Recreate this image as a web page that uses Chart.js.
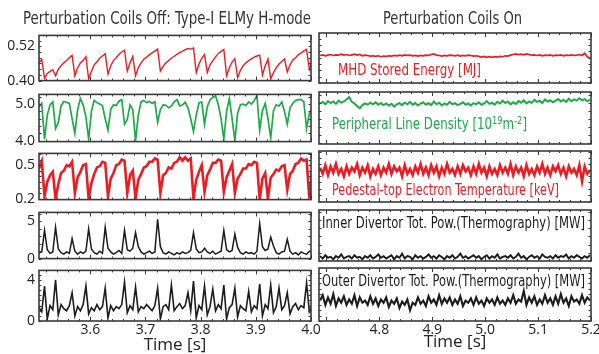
<!DOCTYPE html>
<html>
<head>
<meta charset="utf-8">
<script src="https://cdn.jsdelivr.net/npm/chart.js@4.4.1/dist/chart.umd.min.js"></script>
<style>
  body { margin: 0; background: #fff; overflow: hidden; }
  #wrap { position: relative; width: 599px; height: 354px; overflow: hidden; }
  .txt { position: absolute; white-space: nowrap; line-height: 1; transform-origin: left center;
         font-family: 'Liberation Sans Narrow', 'DejaVu Sans Condensed', 'Liberation Sans', sans-serif; }
  .txt sup { font-size: 70%; vertical-align: 0.45em; line-height: 0; }
</style>
</head>
<body>
<div id="wrap"></div>
<script>
// ==================== 데이터 ====================
// sample times: left = coils off, right = coils on (5 ms sampling)
const tOffStart = 3.507, tOnStart = 4.688, tStep = 0.005;
const xOffTicks = [3.6, 3.7, 3.8, 3.9, 4.0];
const xOnTicks = [4.8, 4.9, 5.0, 5.1, 5.2];

// MHD stored energy [MJ]
const wmhdOff = [
  0.462, 0.474, 0.408, 0.425, 0.432, 0.438, 0.417, 0.440, 0.452, 0.462,
  0.470, 0.480, 0.488, 0.417, 0.445, 0.462, 0.470, 0.484, 0.406, 0.432,
  0.455, 0.466, 0.478, 0.486, 0.494, 0.423, 0.452, 0.470, 0.480, 0.492,
  0.500, 0.506, 0.433, 0.462, 0.485, 0.417, 0.445, 0.462, 0.475, 0.482,
  0.490, 0.497, 0.503, 0.510, 0.433, 0.450, 0.462, 0.470, 0.478, 0.485,
  0.492, 0.498, 0.503, 0.508, 0.512, 0.510, 0.514, 0.428, 0.458, 0.478,
  0.491, 0.428, 0.455, 0.470, 0.483, 0.495, 0.502, 0.509, 0.417, 0.445,
  0.465, 0.477, 0.410, 0.435, 0.452, 0.462, 0.470, 0.476, 0.482, 0.486,
  0.489, 0.420, 0.452, 0.475, 0.406, 0.428, 0.445, 0.458, 0.467, 0.476,
  0.430, 0.455, 0.472, 0.480, 0.490, 0.497, 0.504, 0.509, 0.440, 0.465
];
const wmhdOn = [
  0.487, 0.489, 0.486, 0.488, 0.490, 0.487, 0.489, 0.488, 0.491, 0.488,
  0.490, 0.487, 0.489, 0.491, 0.488, 0.490, 0.486, 0.488, 0.487, 0.485,
  0.486, 0.484, 0.486, 0.483, 0.485, 0.484, 0.486, 0.485, 0.487, 0.486,
  0.488, 0.486, 0.489, 0.487, 0.488, 0.486, 0.487, 0.485, 0.487, 0.486,
  0.488, 0.487, 0.490, 0.492, 0.488, 0.487, 0.485, 0.487, 0.486, 0.488,
  0.487, 0.486, 0.488, 0.485, 0.487, 0.486, 0.488, 0.487, 0.485, 0.486,
  0.484, 0.482, 0.484, 0.481, 0.483, 0.481, 0.483, 0.482, 0.484, 0.483,
  0.486, 0.485, 0.488, 0.490, 0.492, 0.490, 0.491, 0.489, 0.492, 0.490,
  0.488, 0.489, 0.487, 0.489, 0.486, 0.488, 0.487, 0.489, 0.486, 0.488,
  0.487, 0.489, 0.486, 0.488, 0.487, 0.489, 0.487, 0.488, 0.490, 0.487,
  0.494, 0.483, 0.478
];

// peripheral line density [10^19 m^-2]
const densOff = [
  4.92, 5.02, 4.04, 4.70, 4.98, 5.06, 4.33, 4.50, 4.95, 5.07,
  5.05, 5.02, 4.60, 4.20, 4.85, 5.15, 4.98, 4.65, 4.04, 4.80,
  5.10, 5.04, 5.00, 4.96, 4.60, 4.29, 4.85, 4.98, 4.96, 5.08,
  5.12, 4.45, 4.58, 4.98, 4.85, 4.00, 4.70, 5.06, 5.10, 5.04,
  5.07, 5.02, 5.06, 4.50, 4.85, 4.98, 4.97, 4.90, 4.95, 5.06,
  5.12, 4.95, 4.98, 5.05, 4.90, 4.60, 4.25, 4.70, 5.03, 5.06,
  4.45, 4.92, 5.12, 5.18, 5.23, 4.98, 4.60, 4.04, 4.80, 5.15,
  4.60, 4.00, 4.75, 4.98, 5.00, 4.96, 5.06, 5.00, 5.10, 5.23,
  4.29, 4.82, 5.02, 4.60, 4.08, 4.82, 4.98, 4.95, 5.06, 4.80,
  4.45, 4.90, 5.02, 5.10, 5.12, 5.13, 5.06, 4.33, 4.75, 4.90
];
const densOn = [
  4.98, 5.02, 4.96, 5.04, 4.99, 5.03, 4.97, 5.05, 5.00, 5.03,
  5.08, 5.14, 5.02, 4.98, 4.92, 4.86, 4.94, 4.98, 4.95, 5.00,
  4.96, 5.01, 4.95, 4.99, 4.94, 4.98, 4.93, 4.97, 4.90, 4.96,
  4.99, 4.94, 5.00, 4.96, 5.02, 4.95, 4.99, 4.93, 4.98, 5.01,
  4.95, 4.99, 4.94, 5.03, 4.96, 5.00, 4.93, 4.98, 4.95, 5.02,
  4.96, 4.99, 4.94, 4.97, 5.01, 4.95, 4.98, 4.93, 4.99, 4.96,
  5.01, 4.95, 4.98, 5.04, 4.97, 5.00, 4.95, 5.02, 4.98, 5.05,
  4.99, 5.03, 4.96, 5.01, 4.97, 5.04, 5.00, 5.06, 4.98, 5.03,
  5.00, 5.07, 5.02, 5.05, 4.99, 5.08, 5.03, 5.06, 5.01, 5.05,
  5.09, 5.03, 5.07, 5.02, 5.10, 5.04, 5.08, 5.05, 5.11, 5.06,
  5.09, 5.04, 5.07
];

// pedestal-top electron temperature [keV]
const teOff = [
  0.47, 0.535, 0.22, 0.35, 0.41, 0.44, 0.20, 0.33, 0.43, 0.45,
  0.50, 0.49, 0.53, 0.25, 0.39, 0.44, 0.50, 0.51, 0.20, 0.34,
  0.42, 0.48, 0.49, 0.53, 0.52, 0.22, 0.38, 0.43, 0.50, 0.51,
  0.55, 0.54, 0.25, 0.41, 0.45, 0.20, 0.37, 0.42, 0.48, 0.49,
  0.53, 0.53, 0.56, 0.55, 0.25, 0.41, 0.43, 0.48, 0.47, 0.52,
  0.53, 0.57, 0.54, 0.57, 0.54, 0.56, 0.20, 0.37, 0.44, 0.50,
  0.26, 0.41, 0.46, 0.52, 0.52, 0.55, 0.54, 0.26, 0.39, 0.45,
  0.51, 0.25, 0.38, 0.42, 0.47, 0.47, 0.51, 0.50, 0.53, 0.52,
  0.19, 0.38, 0.43, 0.20, 0.39, 0.42, 0.46, 0.45, 0.49, 0.50,
  0.28, 0.42, 0.45, 0.51, 0.52, 0.56, 0.54, 0.55, 0.20, 0.44
];
const teOn = [
  0.47, 0.42, 0.49, 0.41, 0.48, 0.43, 0.50, 0.42, 0.46, 0.40,
  0.48, 0.42, 0.47, 0.44, 0.50, 0.41, 0.47, 0.43, 0.49, 0.40,
  0.46, 0.42, 0.48, 0.41, 0.47, 0.43, 0.50, 0.42, 0.48, 0.44,
  0.47, 0.40, 0.49, 0.42, 0.46, 0.41, 0.48, 0.43, 0.50, 0.42,
  0.47, 0.41, 0.49, 0.43, 0.48, 0.40, 0.47, 0.42, 0.50, 0.43,
  0.46, 0.41, 0.48, 0.42, 0.49, 0.44, 0.47, 0.41, 0.48, 0.42,
  0.50, 0.43, 0.47, 0.40, 0.48, 0.42, 0.46, 0.41, 0.49, 0.43,
  0.47, 0.42, 0.50, 0.41, 0.48, 0.43, 0.47, 0.40, 0.49, 0.42,
  0.46, 0.41, 0.48, 0.43, 0.50, 0.42, 0.47, 0.41, 0.48, 0.44,
  0.49, 0.42, 0.47, 0.40, 0.48, 0.43, 0.46, 0.41, 0.49, 0.36,
  0.48, 0.42, 0.45
];

// inner divertor total power [MW]
const pInOff = [
  0.8, 0.9, 3.8, 1.2, 0.7, 0.9, 4.2, 1.3, 0.8, 0.6,
  0.9, 0.7, 2.7, 1.0, 0.6, 0.9, 0.7, 1.0, 4.0, 1.3,
  0.8, 0.6, 1.0, 0.7, 4.2, 1.4, 0.9, 0.6, 0.8, 1.1,
  0.7, 3.8, 1.2, 1.0, 1.4, 3.5, 1.6, 0.9, 0.6, 0.8,
  1.0, 0.7, 0.9, 5.3, 1.6, 0.8, 0.6, 0.9, 0.7, 0.5,
  0.8, 0.6, 0.9, 0.7, 0.8, 1.1, 3.5, 1.3, 0.8, 0.9,
  1.4, 0.9, 0.7, 1.0, 0.6, 0.8, 1.0, 3.8, 1.2, 0.9,
  1.1, 3.3, 1.5, 0.8, 0.6, 0.9, 0.7, 0.8, 0.6, 1.0,
  4.7, 1.6, 1.1, 1.3, 2.9, 1.7, 0.8, 0.6, 0.9, 1.0,
  2.6, 1.0, 0.6, 0.8, 0.5, 0.9, 0.7, 0.6, 1.0, 0.8
];
const pInOn = [
  0.6, 0.3, 0.7, 0.4, 0.5, 0.2, 0.6, 0.4, 0.8, 0.3,
  0.5, 0.6, 0.3, 0.7, 0.4, 0.5, 0.2, 0.6, 0.4, 0.7,
  0.3, 0.5, 0.8, 0.4, 0.6, 0.3, 0.5, 0.7, 0.2, 0.6,
  0.4, 0.9, 0.3, 0.6, 0.5, 0.2, 0.7, 0.4, 0.6, 0.3,
  0.5, 0.8, 0.4, 0.6, 0.3, 0.7, 0.5, 0.2, 0.6, 0.4,
  0.7, 0.3, 0.5, 0.9, 0.4, 0.6, 0.3, 0.5, 0.7, 0.4,
  0.6, 0.2, 0.5, 0.7, 0.3, 0.6, 0.4, 0.8, 0.3, 0.5,
  0.6, 0.4, 0.7, 0.3, 0.5, 0.9, 0.4, 0.6, 0.2, 0.5,
  0.7, 0.4, 0.6, 0.3, 0.8, 0.5, 0.4, 0.6, 0.3, 0.7,
  0.4, 0.6, 0.5, 0.8, 0.3, 0.6, 0.4, 0.7, 0.5, 0.3,
  0.6, 0.4, 0.7
];

// outer divertor total power [MW]
const pOutOff = [
  1.3, 0.9, 3.4, 0.2, 1.5, 1.1, 4.0, 0.6, 1.6, 1.2,
  1.0, 1.5, 2.75, 0.5, 1.4, 1.0, 1.6, 3.4, 0.7, 1.3,
  1.0, 1.6, 1.1, 1.4, 3.2, 0.3, 1.5, 1.0, 1.4, 1.2,
  1.6, 3.8, 0.8, 1.5, 1.1, 3.3, 0.9, 1.4, 1.2, 1.6,
  1.3, 1.0, 1.5, 3.2, 0.2, 1.4, 1.6, 1.1, 3.5, 1.0,
  1.4, 1.7, 1.2, 1.5, 2.75, 1.0, 3.9, 0.3, 1.5, 1.1,
  3.4, 0.6, 1.4, 3.1, 1.0, 1.6, 1.2, 3.5, 0.2, 1.3,
  1.6, 3.2, 0.4, 1.5, 1.2, 1.0, 2.9, 0.9, 1.5, 1.2,
  3.6, 0.5, 1.6, 1.2, 3.5, 0.8, 1.4, 3.2, 1.1, 1.5,
  2.75, 0.7, 1.4, 1.7, 1.1, 1.5, 1.3, 3.7, 0.9, 1.4
];
const pOutOn = [
  1.9, 2.4, 1.5, 2.2, 1.6, 2.5, 1.4, 2.1, 1.7, 2.3,
  1.5, 2.0, 1.6, 2.4, 1.4, 2.2, 1.7, 1.9, 1.5, 2.3,
  1.6, 2.1, 1.4, 2.0, 1.7, 2.2, 1.3, 1.9, 1.6, 2.1,
  1.2, 1.8, 1.5, 2.0, 1.0, 1.7, 1.5, 2.2, 1.6, 1.9,
  1.4, 2.3, 1.7, 2.0, 1.5, 2.4, 1.6, 2.1, 1.7, 2.2,
  1.5, 2.0, 1.6, 2.3, 1.4, 1.9, 1.7, 2.1, 1.5, 2.2,
  1.6, 1.9, 1.4, 2.1, 1.7, 2.0, 1.5, 2.2, 1.6, 1.9,
  1.5, 2.1, 1.7, 2.4, 1.6, 2.0, 1.8, 2.8, 1.5, 2.2,
  1.7, 2.3, 1.5, 2.0, 1.6, 2.4, 1.7, 2.1, 1.5, 2.3,
  1.6, 2.5, 1.7, 2.1, 1.4, 2.3, 1.8, 2.0, 1.6, 2.4,
  1.7, 2.2, 1.9
];

// y tick labels per row
const wmhdTicks = [0.40, 0.52];
const densTicks = [4.0, 5.0];
const teTicks = [0.2, 0.5];
const pInTicks = [0, 5];
const pOutTicks = [0, 4];

// ==================== 스타일 / 레이아웃 ====================
const RED = '#ec1c24', GREEN = '#1faa4a', BLACK = '#1c1c1c', FRAME = '#3a3a3a';
const TICK_FONT = { family: "'Open Sans', 'DejaVu Sans', sans-serif", size: 14 };
const rowBox = [[33, 83], [92, 144], [151, 202], [210, 261], [268, 321]];
const colBox = [
  { left: 0, width: 330, padL: 0, padR: 19 },
  { left: 315, width: 300, padL: 4, padR: 24 }
];
const colRange = [[3.507, 4.0], [4.686, 5.2]];

// frame + inward minor ticks
const frameTicks = {
  id: 'frameTicks',
  afterDatasetsDraw(chart, args, opts) {
    const { ctx, chartArea: a, scales: { x, y } } = chart;
    ctx.save();
    ctx.strokeStyle = FRAME;
    ctx.lineWidth = 1;
    ctx.beginPath();
    const first = Math.ceil(x.min / 0.02 - 1e-6);
    for (let k = first; k * 0.02 <= x.max + 1e-9; k++) {
      const px = Math.round(x.getPixelForValue(k * 0.02)) + 0.5;
      const len = k % 5 === 0 ? 4 : 2;
      ctx.moveTo(px, a.top); ctx.lineTo(px, a.top + len);
      ctx.moveTo(px, a.bottom); ctx.lineTo(px, a.bottom - len);
    }
    const st = opts.yMinor;
    for (let k = Math.ceil(y.min / st - 1e-6); k * st <= y.max + 1e-9; k++) {
      const py = Math.round(y.getPixelForValue(k * st)) + 0.5;
      ctx.moveTo(a.left, py); ctx.lineTo(a.left + 2.5, py);
      ctx.moveTo(a.right, py); ctx.lineTo(a.right - 2.5, py);
    }
    ctx.stroke();
    ctx.lineWidth = 1.6;
    ctx.strokeRect(a.left, a.top, a.right - a.left, a.bottom - a.top);
    ctx.restore();
  }
};

const panels = [
  { col: 0, row: 0, values: wmhdOff, color: RED, lw: 1.4, min: 0.40, max: 0.558, yTicks: wmhdTicks, yMinor: 0.02, fmt: v => v.toFixed(2) },
  { col: 0, row: 1, values: densOff, color: GREEN, lw: 1.7, min: 3.975, max: 5.265, yTicks: densTicks, yMinor: 0.2, fmt: v => v.toFixed(1) },
  { col: 0, row: 2, values: teOff, color: RED, lw: 2.6, min: 0.192, max: 0.605, yTicks: teTicks, yMinor: 0.05, fmt: v => v.toFixed(1) },
  { col: 0, row: 3, values: pInOff, color: BLACK, lw: 1.5, min: 0, max: 6.22, yTicks: pInTicks, yMinor: 1, fmt: v => String(v) },
  { col: 0, row: 4, values: pOutOff, color: BLACK, lw: 1.6, min: 0, max: 4.93, yTicks: pOutTicks, yMinor: 0.5, fmt: v => String(v) },
  { col: 1, row: 0, values: wmhdOn, color: RED, lw: 1.7, min: 0.40, max: 0.558, yTicks: wmhdTicks, yMinor: 0.02 },
  { col: 1, row: 1, values: densOn, color: GREEN, lw: 2.0, min: 3.975, max: 5.265, yTicks: densTicks, yMinor: 0.2 },
  { col: 1, row: 2, values: teOn, color: RED, lw: 2.6, min: 0.192, max: 0.605, yTicks: teTicks, yMinor: 0.05 },
  { col: 1, row: 3, values: pInOn, color: BLACK, lw: 1.9, min: 0, max: 6.22, yTicks: pInTicks, yMinor: 1 },
  { col: 1, row: 4, values: pOutOn, color: BLACK, lw: 2.1, min: 0, max: 4.93, yTicks: pOutTicks, yMinor: 0.5 }
];

const wrap = document.getElementById('wrap');

function buildPanel(p) {
  const [top, bot] = rowBox[p.row];
  const col = colBox[p.col];
  const last = p.row === 4;
  const showY = p.col === 0;
  const cTop = top - 10;
  const h = last ? 354 - cTop : bot - top + 20;
  const cv = document.createElement('canvas');
  cv.width = col.width; cv.height = h;
  cv.style.cssText = `position:absolute;left:${col.left}px;top:${cTop}px;width:${col.width}px;height:${h}px`;
  wrap.appendChild(cv);

  const start = p.col === 0 ? tOffStart : tOnStart;
  const xTicks = p.col === 0 ? xOffTicks : xOnTicks;
  const pts = p.values.map((v, i) => ({ x: start + i * tStep, y: v }));

  new Chart(cv, {
    type: 'line',
    data: { datasets: [{ data: pts, borderColor: p.color, borderWidth: p.lw, pointRadius: 0, tension: 0 }] },
    options: {
      responsive: false, animation: false, devicePixelRatio: 1, events: [],
      layout: { padding: { left: col.padL, right: col.padR, top: 10, bottom: last ? 0 : 10 } },
      plugins: { legend: { display: false }, tooltip: { enabled: false }, frameTicks: { yMinor: p.yMinor } },
      scales: {
        x: {
          type: 'linear', min: colRange[p.col][0], max: colRange[p.col][1], display: last,
          afterBuildTicks: s => { s.ticks = xTicks.map(v => ({ value: v })); },
          afterFit: s => { s.height = last ? 33 : 0; },
          grid: { display: false, drawTicks: false }, border: { display: false },
          ticks: { font: TICK_FONT, color: '#222', padding: 1, maxRotation: 0, autoSkip: false, callback: v => v.toFixed(1) },
          title: { display: true, text: 'Time [s]', color: '#222',
                   font: { family: TICK_FONT.family, size: 17, lineHeight: 1 },
                   padding: { top: 0, bottom: p.col === 0 ? 0 : 3 } }
        },
        y: {
          min: p.min, max: p.max, display: showY,
          afterBuildTicks: s => { s.ticks = p.yTicks.map(v => ({ value: v })); },
          afterFit: s => { s.width = showY ? 39 : 0; },
          grid: { display: false, drawTicks: false }, border: { display: false },
          ticks: { font: TICK_FONT, color: '#222', padding: 4, autoSkip: false, callback: v => p.fmt ? p.fmt(v) : '' }
        }
      }
    },
    plugins: [frameTicks]
  });
}

panels.forEach(buildPanel);

// ==================== 텍스트 ====================
const texts = [
  { html: 'Perturbation Coils Off: Type-I ELMy H-mode', color: '#333', size: 17, left: 23, cy: 18, width: 288 },
  { html: 'Perturbation Coils On', color: '#333', size: 17, left: 383, cy: 18, width: 139 },
  { html: 'MHD Stored Energy [MJ]', color: RED, size: 15.5, left: 338, cy: 70.5, width: 143 },
  { html: 'Peripheral Line Density [10<sup>19</sup>m<sup>-2</sup>]', color: GREEN, size: 15.5, left: 332, cy: 125, width: 195 },
  { html: 'Pedestal-top Electron Temperature [keV]', color: RED, size: 15.5, left: 332, cy: 190.5, width: 227 },
  { html: 'Inner Divertor Tot. Pow.(Thermography) [MW]', color: BLACK, size: 15, left: 322, cy: 223.5, width: 263 },
  { html: 'Outer Divertor Tot. Pow.(Thermography) [MW]', color: BLACK, size: 15, left: 322, cy: 281.5, width: 263 }
];
texts.forEach(t => {
  const el = document.createElement('div');
  el.className = 'txt';
  el.innerHTML = t.html;
  el.style.color = t.color;
  el.style.fontSize = t.size + 'px';
  el.style.left = t.left + 'px';
  el.style.top = (t.cy - t.size / 2) + 'px';
  wrap.appendChild(el);
  const w = el.getBoundingClientRect().width;
  el.style.transform = `scaleX(${(t.width / w).toFixed(3)})`;
});
</script>
</body>
</html>
